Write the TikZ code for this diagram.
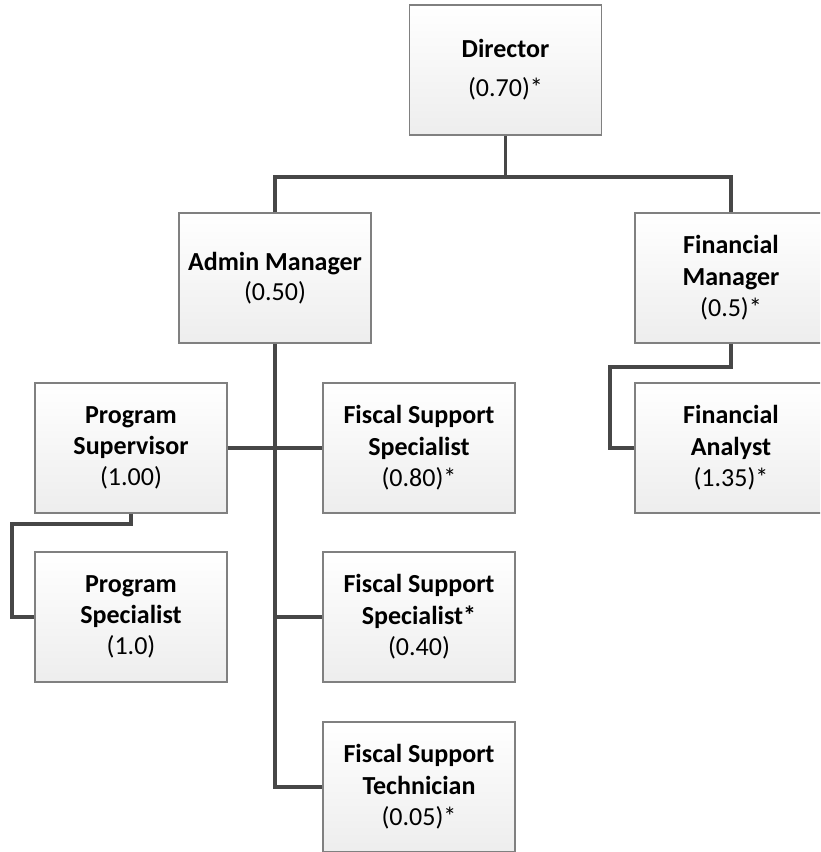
\documentclass[tikz,border=0pt]{standalone}
\usepackage{fontspec}
\setmainfont{Carlito}
\begin{document}
\begin{tikzpicture}[x=0.75pt,y=-0.75pt,
  box/.style={draw=black!50,line width=1pt,top color=white,bottom color=black!7,
    minimum width=144pt,minimum height=97.5pt,inner sep=2pt,align=center,
    font=\fontsize{19.5}{23.5}\selectfont},
  conn/.style={draw=black!72,line width=2.4pt,line join=miter}]
\useasboundingbox (0,0) rectangle (820,852);
\clip (0,0) rectangle (820,852);
\fill[white] (0,0) rectangle (820,852);
\coordinate (bus) at (505.5,177);
\coordinate (psj) at (12,524);
\coordinate (fmj) at (610,367);
\node[box] (dir) at (505.5,70) {\textbf{Director}\\[6pt](0.70)*};
\node[box] (admin) at (275,278) {\textbf{Admin Manager}\\[-1pt](0.50)};
\node[box] (fm) at (731,278) {\textbf{Financial}\\\textbf{Manager}\\(0.5)*};
\node[box] (ps) at (131,448) {\textbf{Program}\\\textbf{Supervisor}\\(1.00)};
\node[box] (fss1) at (419,448) {\textbf{Fiscal Support}\\\textbf{Specialist}\\(0.80)*};
\node[box] (fa) at (731,448) {\textbf{Financial}\\\textbf{Analyst}\\(1.35)*};
\node[box] (pspec) at (131,617) {\textbf{Program}\\\textbf{Specialist}\\(1.0)};
\node[box] (fss2) at (419,617) {\textbf{Fiscal Support}\\\textbf{Specialist*}\\(0.40)};
\node[box] (fst) at (419,787) {\textbf{Fiscal Support}\\\textbf{Technician}\\(0.05)*};
\draw[conn] (dir.south) -- (bus);
\draw[conn] (admin.north) |- (bus) -| (fm.north);
\draw[conn] (admin.south) |- (fst.west);
\draw[conn] (ps.east) -- (fss1.west);
\draw[conn] (admin.south |- fss2.west) -- (fss2.west);
\draw[conn] (ps.south) |- (psj) |- (pspec.west);
\draw[conn] (fm.south) |- (fmj) |- (fa.west);
\end{tikzpicture}
\end{document}
